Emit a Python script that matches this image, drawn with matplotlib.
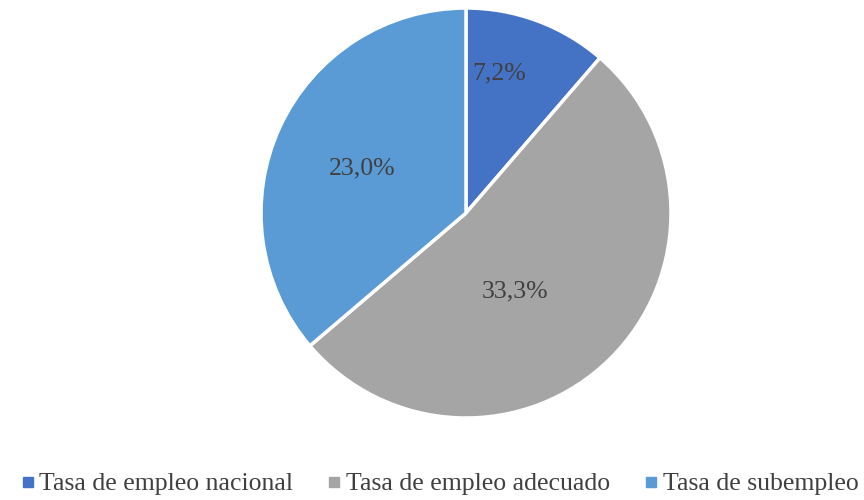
import matplotlib.pyplot as plt
from matplotlib.lines import Line2D
import numpy as np

plt.rcParams['font.family'] = ['Liberation Serif', 'DejaVu Serif']

labels = ["Tasa de empleo nacional", "Tasa de empleo adecuado", "Tasa de subempleo"]
values = [7.2, 33.3, 23.0]
value_text = ["7,2%", "33,3%", "23,0%"]
colors = ["#4472C4", "#A5A5A5", "#5B9BD5"]

fig = plt.figure(figsize=(8.64, 5), dpi=100)
ax = fig.add_axes([0.3021, 0.164, 0.4745, 0.82])

wedges, _ = ax.pie(values, colors=colors, startangle=90, counterclock=False,
                   radius=1, wedgeprops=dict(edgecolor="white", linewidth=2.5))
ax.set_xlim(-1, 1)
ax.set_ylim(-1, 1)
ax.set_aspect("equal")

# label placement (distance from centre, angle shift in degrees), like Excel best fit
label_dist = [0.70, 0.45, 0.55]
label_shift = [7, -13, 1.5]
for w, txt, d, s in zip(wedges, value_text, label_dist, label_shift):
    ang = np.deg2rad((w.theta1 + w.theta2) / 2 + s)
    ax.text(d * np.cos(ang), d * np.sin(ang), txt, ha="center", va="center",
            fontsize=18.5, color="#404040")

handles = [Line2D([], [], marker="s", linestyle="none", markersize=6.5,
                  markerfacecolor=c, markeredgecolor=c) for c in colors]
fig.legend(handles, labels, loc="center", bbox_to_anchor=(0.507, 0.032), ncol=3,
           frameon=False, fontsize=18.5, labelcolor="#404040", handletextpad=0.05,
           columnspacing=1.2, handlelength=0.8)

fig.savefig("out.png")
